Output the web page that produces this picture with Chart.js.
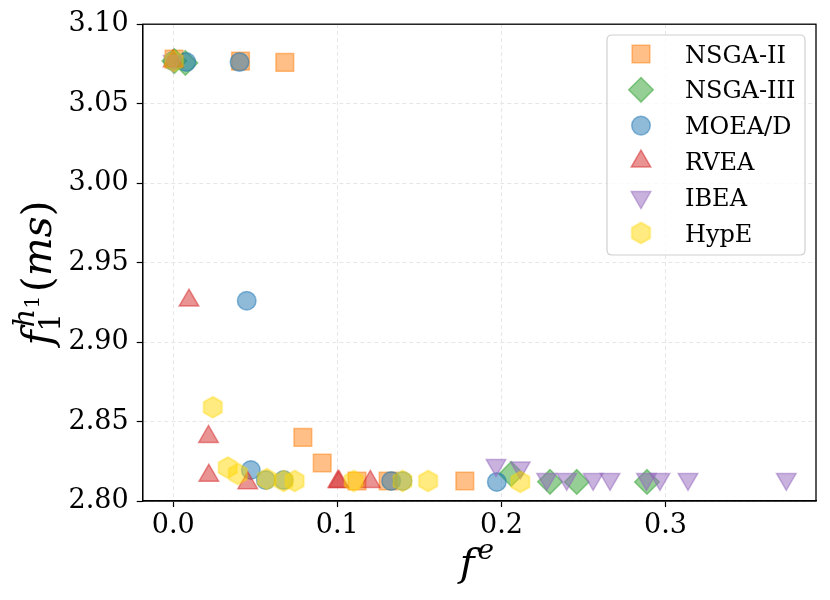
<!DOCTYPE html>
<html><head><meta charset="utf-8">
<script src="https://cdn.jsdelivr.net/npm/chart.js@4.4.0/dist/chart.umd.min.js"></script>
<style>html,body{margin:0;padding:0;background:#fff}#wrap{width:830px;height:600px}</style>
</head><body><div id="wrap"><canvas id="c" width="830" height="600"></canvas></div>
<script>
// ---- data ----
const seriesNames = ['NSGA-II', 'NSGA-III', 'MOEA/D', 'RVEA', 'IBEA', 'HypE'];
const xTickValues = [0.0, 0.1, 0.2, 0.3];
const yTickValues = [2.80, 2.85, 2.90, 2.95, 3.00, 3.05, 3.10];

const nsga2X = [0.0005, 0.041, 0.068, 0.079, 0.0908, 0.112, 0.131, 0.1777];
const nsga2Y = [3.078, 3.0768, 3.076, 2.840, 2.8239, 2.8126, 2.8126, 2.8126];

const nsga3X = [0.0007, 0.0074, 0.206, 0.2296, 0.2459, 0.2887];
const nsga3Y = [3.0768, 3.0756, 2.817, 2.8121, 2.812, 2.812];

const moeadX = [0.0, 0.008, 0.0404, 0.0448, 0.0473, 0.0564, 0.0673, 0.1328, 0.1397, 0.1972];
const moeadY = [3.0768, 3.0762, 3.0762, 2.926, 2.8195, 2.8132, 2.8132, 2.8126, 2.8126, 2.812];

const rveaX = [0.0, 0.0096, 0.0215, 0.0217, 0.0454, 0.1003, 0.1010, 0.1201];
const rveaY = [3.0768, 2.9262, 2.8404, 2.816, 2.8113, 2.8121, 2.8121, 2.8121];

const ibeaX = [0.0, 0.1967, 0.2115, 0.2276, 0.2398, 0.2559, 0.2662, 0.2884, 0.2966, 0.3137, 0.3736];
const ibeaY = [3.0768, 2.8226, 2.821, 2.8138, 2.8138, 2.8138, 2.8138, 2.8138, 2.8138, 2.8138, 2.8138];

const hypeX = [0.0004, 0.0241, 0.0332, 0.0394, 0.057, 0.0673, 0.074, 0.110, 0.1397, 0.1553, 0.2115];
const hypeY = [3.0768, 2.859, 2.821, 2.817, 2.8138, 2.8126, 2.8126, 2.8126, 2.8126, 2.8126, 2.812];

const seriesX = [nsga2X, nsga3X, moeadX, rveaX, ibeaX, hypeX];
const seriesY = [nsga2Y, nsga3Y, moeadY, rveaY, ibeaY, hypeY];

// ---- styles ----
const baseRGB = ['255,127,14', '44,160,44', '31,119,180', '214,39,40', '148,103,189', '255,215,0'];
const SERIF = "'DejaVu Serif', serif";

function hexCanvas(r, fill, stroke, lw) {
  const s = Math.ceil(2 * r + lw + 4);
  const c = document.createElement('canvas');
  c.width = s; c.height = s;
  const g = c.getContext('2d');
  g.beginPath();
  for (let k = 0; k < 6; k++) {
    const a = -Math.PI / 2 + k * Math.PI / 3;
    const px = s / 2 + r * Math.cos(a), py = s / 2 + r * Math.sin(a);
    if (k === 0) g.moveTo(px, py); else g.lineTo(px, py);
  }
  g.closePath();
  g.fillStyle = fill; g.fill();
  g.lineWidth = lw; g.strokeStyle = stroke; g.stroke();
  return c;
}

const markerDefs = [
  {style: 'rect', radius: 12.5, rotation: 0},
  {style: 'rectRot', radius: 12.3, rotation: 0},
  {style: 'circle', radius: 9.3, rotation: 0},
  {style: 'triangle', radius: 11.3, rotation: 0},
  {style: 'triangle', radius: 11.3, rotation: 180},
  {style: 'hex', radius: 10.5, rotation: 0}
];
const BW = 1.5;

const datasets = seriesNames.map((name, i) => {
  const fill = 'rgba(' + baseRGB[i] + ',0.5)';
  const edge = 'rgba(' + baseRGB[i] + ',0.5)';
  const md = markerDefs[i];
  const ps = md.style === 'hex' ? hexCanvas(md.radius, fill, edge, BW) : md.style;
  return {
    label: name,
    data: seriesX[i].map((x, k) => ({x: x, y: seriesY[i][k]})),
    pointStyle: ps,
    pointRadius: md.radius,
    pointHoverRadius: md.radius,
    pointRotation: md.rotation,
    backgroundColor: fill,
    borderColor: edge,
    pointBorderWidth: BW,
    borderWidth: BW,
    showLine: false,
    order: seriesNames.length - i
  };
});

function drawSegs(ctx, segs, x0, y0) {
  segs.forEach(s => { ctx.font = s.font; ctx.fillText(s.t, x0 + s.dx, y0 + s.dy); });
}
function ylabelSegs(ctx, B) {
  const it = (sz) => 'italic ' + sz + 'px ' + SERIF;
  const rg = (sz) => sz + 'px ' + SERIF;
  const segs = [];
  let x = 0;
  ctx.font = it(B); const wf = ctx.measureText('f').width;
  segs.push({t: 'f', font: it(B), dx: 0, dy: 0});
  x = wf;
  const s1 = Math.round(B * 0.7), s2 = Math.round(B * 0.5);
  ctx.font = it(s1); const wh = ctx.measureText('h').width;
  ctx.font = rg(s2); const w1s = ctx.measureText('1').width;
  ctx.font = rg(s1); const w1 = ctx.measureText('1').width;
  segs.push({t: 'h', font: it(s1), dx: x + 3, dy: -B * 0.42});
  segs.push({t: '1', font: rg(s2), dx: x + 3 + wh, dy: -B * 0.42 + B * 0.12});
  segs.push({t: '1', font: rg(s1), dx: x - 1, dy: B * 0.22});
  x = x + Math.max(3 + wh + w1s, w1) + 3;
  ctx.font = rg(B); const wp = ctx.measureText('(').width;
  segs.push({t: '(', font: rg(B), dx: x, dy: 0}); x += wp;
  ctx.font = it(B); const wms = ctx.measureText('ms').width;
  segs.push({t: 'ms', font: it(B), dx: x, dy: 0}); x += wms;
  segs.push({t: ')', font: rg(B), dx: x, dy: 0}); x += wp;
  return {segs, width: x};
}
function xlabelSegs(ctx, B) {
  const it = (sz) => 'italic ' + sz + 'px ' + SERIF;
  ctx.font = it(B); const wf = ctx.measureText('f').width;
  const s1 = Math.round(B * 0.7);
  ctx.font = it(s1); const we = ctx.measureText('e').width;
  return {segs: [{t: 'f', font: it(B), dx: 0, dy: 0}, {t: 'e', font: it(s1), dx: wf + 3, dy: -B * 0.42}], width: wf + 3 + we};
}

function legendMarker(ctx, i, x, y) {
  const md = markerDefs[i];
  const fill = 'rgba(' + baseRGB[i] + ',0.5)';
  ctx.save();
  ctx.fillStyle = fill; ctx.strokeStyle = fill; ctx.lineWidth = BW;
  if (md.style === 'hex') {
    const c = datasets[i].pointStyle;
    ctx.drawImage(c, x - c.width / 2, y - c.height / 2);
  } else {
    Chart.helpers.drawPoint(ctx, {pointStyle: md.style, rotation: md.rotation, radius: md.radius, borderWidth: BW}, x, y);
  }
  ctx.restore();
}

const decor = {
  id: 'decor',
  afterDraw(chart) {
    const ctx = chart.ctx, a = chart.chartArea;
    ctx.save();
    ctx.strokeStyle = '#000'; ctx.lineWidth = 1.3;
    ctx.strokeRect(a.left, a.top, a.right - a.left, a.bottom - a.top);
    ctx.fillStyle = '#000'; ctx.textBaseline = 'alphabetic'; ctx.textAlign = 'left';
    const xl = xlabelSegs(ctx, 40);
    drawSegs(ctx, xl.segs, 477 - xl.width / 2, 576);
    const yl = ylabelSegs(ctx, 41);
    ctx.save();
    ctx.translate(51, 273);
    ctx.rotate(-Math.PI / 2);
    drawSegs(ctx, yl.segs, -yl.width / 2, 0);
    ctx.restore();
    const lx = 607, ly = 35, lw = 198, lh = 220, rr = 5;
    ctx.beginPath();
    ctx.moveTo(lx + rr, ly); ctx.lineTo(lx + lw - rr, ly); ctx.quadraticCurveTo(lx + lw, ly, lx + lw, ly + rr);
    ctx.lineTo(lx + lw, ly + lh - rr); ctx.quadraticCurveTo(lx + lw, ly + lh, lx + lw - rr, ly + lh);
    ctx.lineTo(lx + rr, ly + lh); ctx.quadraticCurveTo(lx, ly + lh, lx, ly + lh - rr);
    ctx.lineTo(lx, ly + rr); ctx.quadraticCurveTo(lx, ly, lx + rr, ly);
    ctx.closePath();
    ctx.fillStyle = 'rgba(255,255,255,0.8)'; ctx.fill();
    ctx.strokeStyle = '#d0d0d0'; ctx.lineWidth = 1.2; ctx.stroke();
    chart.data.datasets.forEach((ds, i) => {
      const ry = 54 + i * 35.8;
      legendMarker(ctx, i, 641, ry);
      ctx.fillStyle = '#000'; ctx.font = '24px ' + SERIF; ctx.textBaseline = 'alphabetic';
      ctx.fillText(ds.label, 685, ry + 8.5);
    });
    ctx.restore();
  }
};

new Chart(document.getElementById('c'), {
  type: 'scatter',
  data: {datasets: datasets},
  options: {
    responsive: false,
    animation: false,
    events: [],
    devicePixelRatio: 1,
    layout: {padding: {top: 22.7, right: 12.7, left: 0, bottom: 0}},
    plugins: {legend: {display: false}, tooltip: {enabled: false}},
    scales: {
      x: {
        type: 'linear', min: -0.0186, max: 0.3917,
        afterFit: (s) => { s.height = 99; },
        afterBuildTicks: (s) => { s.ticks = xTickValues.map(v => ({value: v})); },
        ticks: {callback: (v) => Number(v).toFixed(1), font: {family: SERIF, size: 27}, color: '#000', padding: 3, maxRotation: 0},
        grid: {color: '#e6e6e6', lineWidth: 1, tickColor: '#000', tickLength: 6, tickWidth: 1.2},
        border: {color: '#000', width: 1.3, dash: [4, 3]}
      },
      y: {
        type: 'linear', min: 2.8, max: 3.1,
        afterFit: (s) => { s.width = 142.7; },
        afterBuildTicks: (s) => { s.ticks = yTickValues.map(v => ({value: v})); },
        ticks: {callback: (v) => Number(v).toFixed(2), font: {family: SERIF, size: 27}, color: '#000', padding: 8},
        grid: {color: '#e6e6e6', lineWidth: 1, tickColor: '#000', tickLength: 6, tickWidth: 1.2},
        border: {color: '#000', width: 1.3, dash: [4, 3]}
      }
    }
  },
  plugins: [decor]
});
</script>
</body></html>
